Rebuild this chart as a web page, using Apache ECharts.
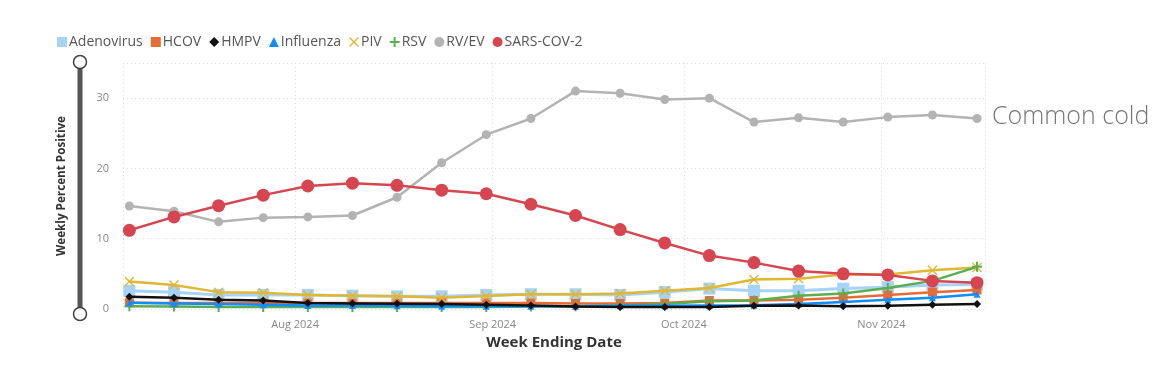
<!DOCTYPE html>
<html>
<head>
<meta charset="utf-8">
<script src="https://cdn.jsdelivr.net/npm/echarts@6/dist/echarts.min.js"></script>
<style>html,body{margin:0;padding:0;background:#fff;}#c{width:1176px;height:366px;}</style>
</head>
<body>
<div id="c"></div>
<script>
const dates = ['2024-07-06','2024-07-13','2024-07-20','2024-07-27','2024-08-03','2024-08-10','2024-08-17','2024-08-24','2024-08-31','2024-09-07','2024-09-14','2024-09-21','2024-09-28','2024-10-05','2024-10-12','2024-10-19','2024-10-26','2024-11-02','2024-11-09','2024-11-16'];
const adeno = [2.6,2.4,2.0,2.0,2.0,1.9,1.8,1.8,2.0,2.1,2.1,2.0,2.4,2.9,2.6,2.6,2.9,3.1,3.4,3.5];
const hcov  = [0.9,0.85,0.85,0.85,0.85,0.85,0.85,0.85,0.85,0.85,0.8,0.8,0.85,1.2,1.2,1.3,1.6,2.0,2.4,2.7];
const hmpv  = [1.75,1.6,1.3,1.2,0.85,0.8,0.75,0.7,0.6,0.5,0.35,0.3,0.3,0.3,0.45,0.5,0.4,0.45,0.6,0.7];
const flu   = [0.9,0.8,0.7,0.6,0.5,0.5,0.45,0.4,0.4,0.4,0.4,0.45,0.45,0.5,0.55,0.7,1.0,1.3,1.6,2.1];
const piv   = [3.9,3.4,2.4,2.3,2.0,1.9,1.8,1.6,1.85,2.1,2.1,2.2,2.6,3.0,4.2,4.3,4.9,4.9,5.5,5.9];
const rsv   = [0.4,0.35,0.3,0.3,0.3,0.3,0.3,0.3,0.3,0.35,0.4,0.5,0.7,1.1,1.2,1.9,2.2,3.0,4.0,6.0];
const rvev  = [14.65,13.9,12.4,13.0,13.1,13.3,15.9,20.8,24.8,27.1,31.0,30.7,29.8,30.0,26.6,27.2,26.6,27.3,27.6,27.1];
const sars  = [11.2,13.1,14.7,16.2,17.5,17.9,17.6,16.9,16.4,14.9,13.3,11.3,9.4,7.6,6.6,5.4,5.0,4.85,4.0,3.75];
const yTicks = [0,10,20,30];
const monthNames = ['Jan','Feb','Mar','Apr','May','Jun','Jul','Aug','Sep','Oct','Nov','Dec'];

const FONT = 'Open Sans';
const plusPath = 'path://M4,0H6V4H10V6H6V10H4V6H0V4H4Z';
const xPath = 'path://M1,0L5,4L9,0L10,1L6,5L10,9L9,10L5,6L1,10L0,9L4,5L0,1Z';

function pts(arr){ return arr.map((v,i)=>[dates[i], v]); }

const seriesDefs = [
  {name:'Adenovirus', data:adeno, color:'#A6D3F7', symbol:'rect', size:12, width:3, z:3},
  {name:'HCOV', data:hcov, color:'#E66C37', symbol:'rect', size:9, width:2.5, z:4},
  {name:'HMPV', data:hmpv, color:'#111111', symbol:'diamond', size:8, width:2.5, z:6},
  {name:'Influenza', data:flu, color:'#118DFF', symbol:'triangle', size:7, width:2.5, z:5},
  {name:'PIV', data:piv, color:'#E0B733', symbol:xPath, size:10, width:2.5, z:4},
  {name:'RSV', data:rsv, color:'#5AAE50', symbol:plusPath, size:10, width:2.5, z:4},
  {name:'RV/EV', data:rvev, color:'#B3B3B3', symbol:'circle', size:9, width:2.5, z:7},
  {name:'SARS-COV-2', data:sars, color:'#D64550', symbol:'circle', size:13, width:2.5, z:8}
];

const chart = echarts.init(document.getElementById('c'));
chart.setOption({
  animation:false,
  textStyle:{fontFamily:FONT},
  legend:{
    left:52, top:30, itemWidth:10, itemHeight:10, itemGap:8,
    textStyle:{fontSize:14, color:'#555', fontFamily:FONT, padding:[0,0,0,-3]},
    data: seriesDefs.map(s=>({name:s.name, icon: s.symbol}))
  },
  grid:{left:123, right:191, top:63, bottom:57},
  xAxis:{
    type:'time',
    min: new Date(2024,6,5).getTime(),
    max: new Date(2024,10,17,6).getTime(),
    minInterval: 28*86400000,
    maxInterval: 31*86400000,
    axisLine:{show:false}, axisTick:{show:false},
    splitLine:{show:true, lineStyle:{color:'#ddd', type:[1,3], width:1}},
    axisLabel:{color:'#888', fontSize:11, fontFamily:FONT, margin:10, showMinLabel:false, showMaxLabel:false,
      formatter:function(v){ const d=new Date(v); return monthNames[d.getMonth()]+' '+d.getFullYear(); }},
    name:'Week Ending Date', nameLocation:'middle', nameGap:26,
    nameTextStyle:{fontSize:15, fontWeight:'bold', color:'#333', fontFamily:FONT}
  },
  yAxis:{
    type:'value', min:0, max:35, interval:10,
    axisLine:{show:false}, axisTick:{show:false},
    splitLine:{show:true, lineStyle:{color:'#ddd', type:[1,3], width:1}},
    axisLabel:{color:'#888', fontSize:11, fontFamily:FONT, margin:14,
      formatter:function(v){ return yTicks.indexOf(v)>=0 ? String(v) : ''; }},
    name:'Weekly Percent Positive', nameLocation:'middle', nameGap:55, nameRotate:90,
    nameTextStyle:{fontSize:11.7, fontWeight:'bold', color:'#333', fontFamily:FONT}
  },
  graphic:[
    {type:'line', shape:{x1:80,y1:62,x2:80,y2:314}, style:{stroke:'#555', lineWidth:5}, z:1},
    {type:'circle', shape:{cx:80,cy:62,r:6.5}, style:{fill:'#fff', stroke:'#444', lineWidth:1.5}, z:2},
    {type:'circle', shape:{cx:80,cy:314,r:6.5}, style:{fill:'#fff', stroke:'#444', lineWidth:1.5}, z:2},
    {type:'text', left:992, top:104, style:{text:'Common cold', fontSize:25, fill:'#777', fontFamily:FONT, fontWeight:300}}
  ],
  series: seriesDefs.map(s=>({
    name:s.name, type:'line', data:pts(s.data), symbol:s.symbol, symbolSize:s.size,
    showAllSymbol:true, z:s.z,
    lineStyle:{color:s.color, width:s.width},
    itemStyle:{color:s.color}
  }))
});
</script>
</body>
</html>
